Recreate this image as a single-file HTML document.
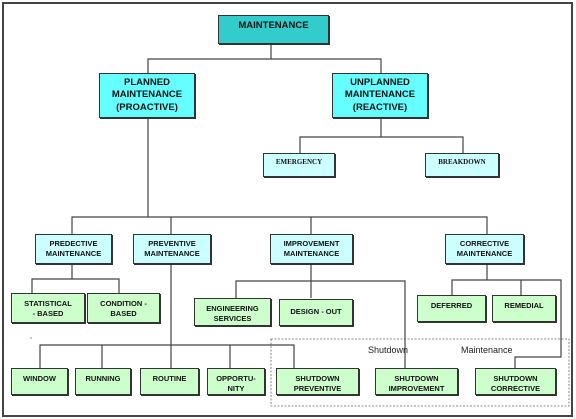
<!DOCTYPE html>
<html><head><meta charset="utf-8"><style>
body{margin:0;width:576px;height:419px;background:#fff;position:relative;overflow:hidden;font-family:"Liberation Sans",Arial,sans-serif}
.b{position:absolute;box-sizing:border-box;border:1px solid #333;box-shadow:1px 1px 0 #333;display:flex;align-items:center;justify-content:center;text-align:center;font-weight:bold;color:#111;line-height:1.3}
.g{background:#ccffcc;font-size:7.5px;align-items:flex-start;padding-top:5px}
.c{background:#ccffff;font-size:7.5px}
.t{position:absolute;font-size:9px;color:#222}
svg{position:absolute;left:0;top:0}
</style></head><body>
<svg width="576" height="419">
<rect x="3" y="3" width="569" height="413" fill="none" stroke="#444" stroke-width="2"/>
<g stroke="#444" stroke-width="1.2" fill="none">
<path d="M271 44V59M148 73V59H381V73"/>
<path d="M381 118V137M300 153V137H463V153"/>
<path d="M148 118V217M72 234V217H487V234M171 217V234M311 217V234"/>
<path d="M72 264V279M32 293V279H119V293"/>
<path d="M171 264V368M40 368V345H294V368M102 345V368M230 345V368"/>
<path d="M311 264V298M236 298V281H405V368"/>
<path d="M487 264V280M452 295V280H561V357H515V368M521 280V295"/>
</g>
<rect x="271" y="339" width="298" height="67" fill="none" stroke="#666" stroke-width="0.8" stroke-dasharray="2,1.5"/>
<circle cx="31" cy="338" r="0.6" fill="#333"/>
</svg>
<div class="b" style="left:218px;top:15px;width:111px;height:29px;background:#33cccc;font-size:9.5px;align-items:flex-start;padding-top:4px">MAINTENANCE</div>
<div class="b" style="left:99px;top:73px;width:96px;height:45px;background:#66ffff;font-size:9.5px">PLANNED<br>MAINTENANCE<br>(PROACTIVE)</div>
<div class="b" style="left:332px;top:73px;width:96px;height:45px;background:#66ffff;font-size:9.5px">UNPLANNED<br>MAINTENANCE<br>(REACTIVE)</div>
<div class="b" style="left:263px;top:153px;width:72px;height:24px;background:#ccffff;font-size:7px;font-family:'Liberation Serif',serif;align-items:flex-start;padding-top:4px">EMERGENCY</div>
<div class="b" style="left:425px;top:153px;width:74px;height:24px;background:#ccffff;font-size:7px;font-family:'Liberation Serif',serif;align-items:flex-start;padding-top:4px">BREAKDOWN</div>
<div class="b c" style="left:35px;top:234px;width:77px;height:30px">PREDECTIVE<br>MAINTENANCE</div>
<div class="b c" style="left:133px;top:234px;width:78px;height:30px">PREVENTIVE<br>MAINTENANCE</div>
<div class="b c" style="left:270px;top:234px;width:83px;height:30px">IMPROVEMENT<br>MAINTENANCE</div>
<div class="b c" style="left:445px;top:234px;width:79px;height:30px">CORRECTIVE<br>MAINTENANCE</div>
<div class="b g" style="left:11px;top:293px;width:74px;height:30px">STATISTICAL<br>- BASED</div>
<div class="b g" style="left:87px;top:293px;width:73px;height:30px">CONDITION -<br>BASED</div>
<div class="b g" style="left:194px;top:298px;width:77px;height:28px">ENGINEERING<br>SERVICES</div>
<div class="b g" style="left:279px;top:299px;width:74px;height:27px;padding-top:7px">DESIGN - OUT</div>
<div class="b g" style="left:417px;top:295px;width:69px;height:27px">DEFERRED</div>
<div class="b g" style="left:492px;top:295px;width:64px;height:27px">REMEDIAL</div>
<div class="b g" style="left:11px;top:368px;width:57px;height:27px">WINDOW</div>
<div class="b g" style="left:75px;top:368px;width:56px;height:27px">RUNNING</div>
<div class="b g" style="left:140px;top:368px;width:59px;height:27px">ROUTINE</div>
<div class="b g" style="left:207px;top:368px;width:58px;height:27px">OPPORTU-<br>NITY</div>
<div class="b g" style="left:276px;top:368px;width:83px;height:27px">SHUTDOWN<br>PREVENTIVE</div>
<div class="b g" style="left:375px;top:368px;width:83px;height:27px">SHUTDOWN<br>IMPROVEMENT</div>
<div class="b g" style="left:475px;top:368px;width:81px;height:27px">SHUTDOWN<br>CORRECTIVE</div>
<div class="t" style="left:368px;top:345px">Shutdown</div>
<div class="t" style="left:461px;top:345px">Maintenance</div>
</body></html>
